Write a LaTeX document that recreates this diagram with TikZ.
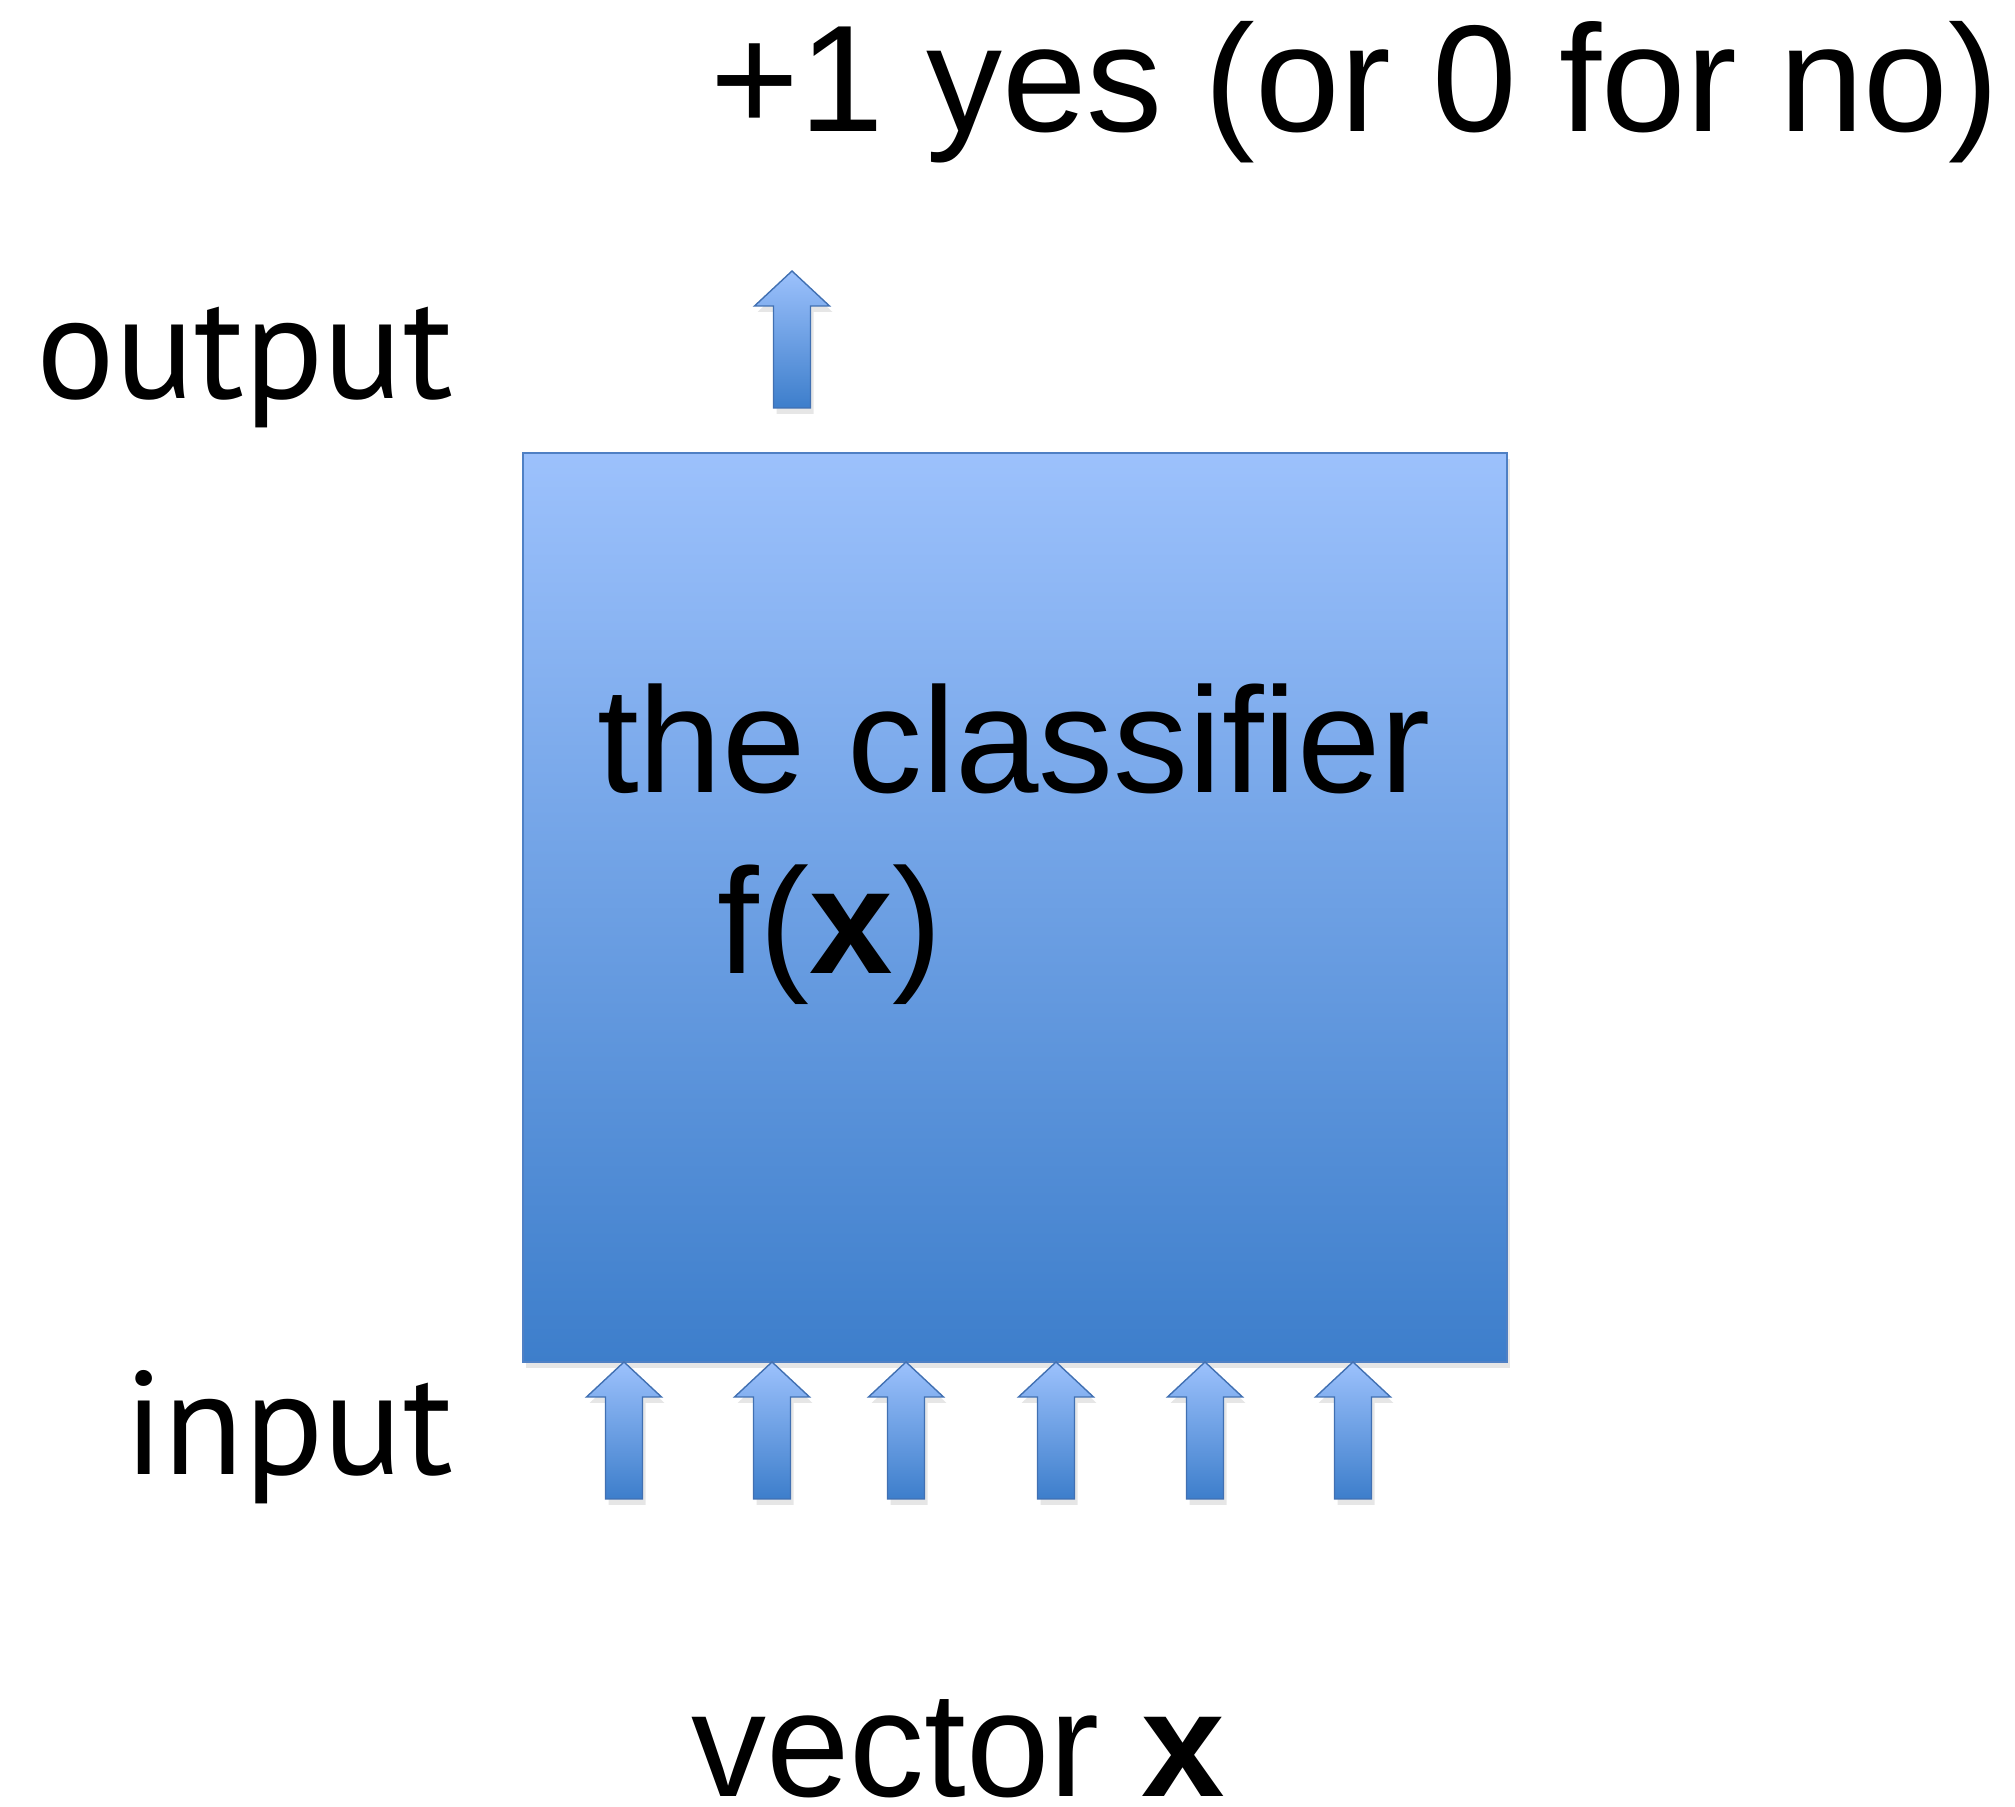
\documentclass[tikz,border=0pt]{standalone}
\usepackage{fontspec}
\setmainfont{Liberation Sans}
\newfontfamily\sidefont{PT Sans}
\usetikzlibrary{shadows}
\definecolor{boxtop}{HTML}{9CC1FC}
\definecolor{boxbottom}{HTML}{3D7ECB}
\definecolor{boxline}{HTML}{4F80C4}
\definecolor{arrowline}{HTML}{4170B2}
\newcommand{\bigtext}{\fontsize{75}{90}\selectfont}
\newcommand{\sidetext}{\sidefont\fontsize{73.5}{90}\selectfont}

\begin{document}
\begin{tikzpicture}[x=0.5pt,y=0.5pt,
    every node/.style={inner sep=0pt,outer sep=0pt},
    softshadow/.style={drop shadow={shadow xshift=1.5pt,shadow yshift=-3pt,opacity=0.2}},
    classbox/.style={draw=boxline,line width=0.9pt,top color=boxtop,bottom color=boxbottom,softshadow},
    blockarrow/.style={draw=arrowline,line width=0.7pt,top color=boxtop,bottom color=boxbottom,softshadow},
    uparrow/.pic={
      \draw[blockarrow] (0,0) -- (37.5,-35) -- (18.5,-35) -- (18.5,-137)
        -- (-18.5,-137) -- (-18.5,-35) -- (-37.5,-35) -- cycle;
    }]
  \useasboundingbox (0,0) rectangle (2015,1806);

  % the classifier box
  \draw[classbox] (523,444) rectangle (1507,1353);
  \node[anchor=base] (name) at (1014,1013) {\bigtext the classifier};
  \node[anchor=base] (fx) at (830,832) {\bigtext f(\textbf{x})};

  % output side
  \pic at (792,1535) {uparrow};
  \node[anchor=base] (result) at (1355,1674) {\fontsize{76}{90}\selectfont +1 yes (or 0 for no)};
  \node[anchor=base east] (outlabel) at (453,1407) {\sidetext output};

  % input side
  \foreach \cx in {624,772,906,1056,1205,1353}
    \pic at (\cx,444) {uparrow};
  \node[anchor=base east] (inlabel) at (453,331) {\sidetext input};
  \node[anchor=base] (vec) at (958,10) {\bigtext vector \textbf{x}};
\end{tikzpicture}
\end{document}
